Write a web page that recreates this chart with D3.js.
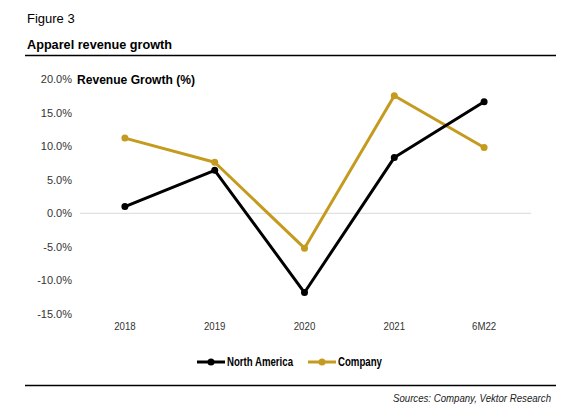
<!DOCTYPE html>
<html><head><meta charset="utf-8">
<script src="https://cdn.jsdelivr.net/npm/d3@7"></script>
<style>body{margin:0;background:#fff}svg{display:block}text{font-family:"Liberation Sans",Arial,sans-serif}</style>
</head><body><svg id="c" width="576" height="418"></svg>
<script>
const categories = ["2018","2019","2020","2021","6M22"];
const northAmerica = [1.0, 6.4, -11.8, 8.3, 16.6];
const company = [11.2, 7.6, -5.2, 17.5, 9.8];
const yTicks = [20,15,10,5,0,-5,-10,-15];
const seriesNames = ["North America","Company"];
const seriesColors = ["#000000","#C49B1E"];

const svg = d3.select("#c");
const x = d3.scaleBand().domain(categories).range([80,529]);
const y = d3.scaleLinear().domain([-15,20]).range([314,79]);

svg.append("text").attr("x",27).attr("y",23).attr("font-size",13).text("Figure 3");
svg.append("text").attr("x",27).attr("y",49).attr("font-size",12.5).attr("font-weight","bold")
  .attr("textLength",145).attr("lengthAdjust","spacingAndGlyphs").text("Apparel revenue growth");
svg.append("line").attr("x1",25).attr("x2",556).attr("y1",55.5).attr("y2",55.5).attr("stroke","#000").attr("stroke-width",1.5);
svg.append("line").attr("x1",25).attr("x2",556).attr("y1",385.5).attr("y2",385.5).attr("stroke","#000").attr("stroke-width",1.5);
svg.append("text").attr("x",393).attr("y",402).attr("font-size",10.5).attr("font-style","italic").attr("fill","#222")
  .attr("textLength",158).attr("lengthAdjust","spacingAndGlyphs").text("Sources: Company, Vektor Research");

// y axis labels
const yAxis = d3.axisLeft(y).tickValues(yTicks).tickSize(0).tickPadding(0).tickFormat(d=>d.toFixed(1)+"%");
const ga = svg.append("g").attr("transform","translate(72,0)").call(yAxis);
ga.select(".domain").remove();
ga.selectAll("text").attr("font-size",11).attr("fill","#333").attr("font-family","'Liberation Sans',Arial,sans-serif");

// zero line
svg.append("line").attr("x1",80).attr("x2",531).attr("y1",y(0)).attr("y2",y(0)).attr("stroke","#d9d9d9").attr("stroke-width",1);

// x axis labels
const xAxis = d3.axisBottom(x).tickSize(0).tickPadding(0);
const gx = svg.append("g").attr("transform","translate(0,322)").call(xAxis);
gx.select(".domain").remove();
gx.selectAll("text").attr("font-size",11).attr("fill","#333").attr("font-family","'Liberation Sans',Arial,sans-serif")
  .attr("dy","0.71em").attr("transform","scale(0.88,1)");

svg.append("text").attr("x",77).attr("y",84).attr("font-size",13).attr("font-weight","bold")
  .attr("textLength",118).attr("lengthAdjust","spacingAndGlyphs").text("Revenue Growth (%)");

const line = d3.line().x((d,i)=>x(categories[i])+x.bandwidth()/2).y(d=>y(d));
[[company,1],[northAmerica,0]].forEach(([s,k])=>{
  svg.append("path").datum(s).attr("d",line).attr("fill","none").attr("stroke",seriesColors[k]).attr("stroke-width",3).attr("stroke-linejoin","round");
  svg.selectAll(null).data(s).enter().append("circle")
    .attr("cx",(d,i)=>x(categories[i])+x.bandwidth()/2).attr("cy",d=>y(d)).attr("r",3.5).attr("fill",seriesColors[k]);
});

// legend
const lx = [197,308];
const lw = [66,44];
seriesNames.forEach((n,k)=>{
  const g = svg.append("g");
  g.append("line").attr("x1",lx[k]).attr("x2",lx[k]+28).attr("y1",362).attr("y2",362).attr("stroke",seriesColors[k]).attr("stroke-width",3);
  g.append("circle").attr("cx",lx[k]+14).attr("cy",362).attr("r",3.5).attr("fill",seriesColors[k]);
  g.append("text").attr("x",lx[k]+30).attr("y",366).attr("font-size",12).attr("font-weight","bold")
    .attr("textLength",lw[k]).attr("lengthAdjust","spacingAndGlyphs").text(n);
});
</script></body></html>
